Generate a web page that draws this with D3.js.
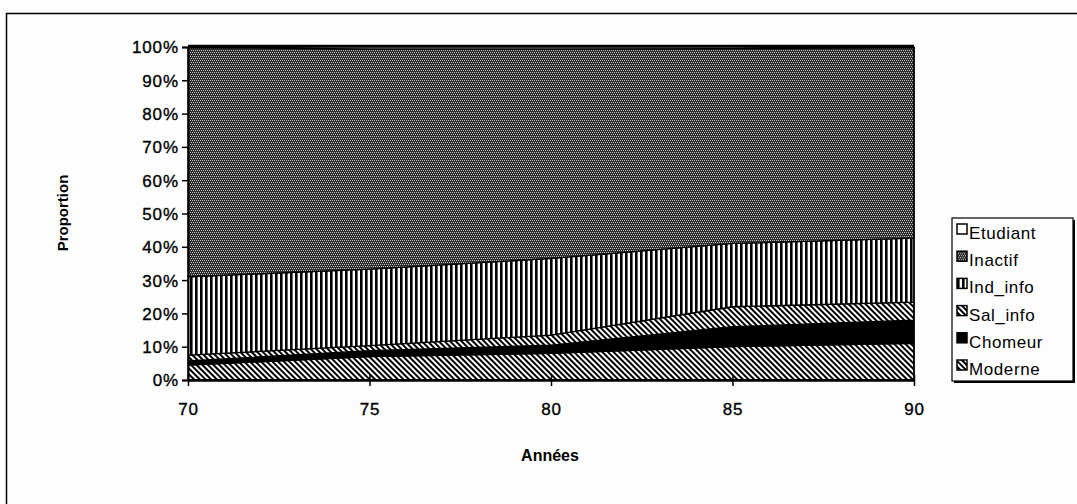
<!DOCTYPE html>
<html>
<head>
<meta charset="utf-8">
<script src="https://cdn.jsdelivr.net/npm/d3@7"></script>
<style>
  body { margin: 0; background: #fdfdfd; }
  svg { display: block; }
  text { font-family: "Liberation Sans", Arial, sans-serif; fill: #000; }
</style>
</head>
<body>
<div id="chart"></div>
<script>
// values, in percent
var years    = [70, 75, 80, 85, 90];
var moderne  = [4.5, 7, 8, 10, 11];
var chomeur  = [1.2, 1.8, 2.5, 6, 7];
var salInfo  = [1.8, 1.5, 3, 6, 5.4];
var indInfo  = [23.5, 23, 23, 19, 19.2];
var inactif  = [68.8, 66.1, 62.9, 58.5, 57.2];
var etudiant = [0.2, 0.6, 0.6, 0.5, 0.2];

var keys = ['Moderne', 'Chomeur', 'Sal_info', 'Ind_info', 'Inactif', 'Etudiant'];
var legendOrder = ['Etudiant', 'Inactif', 'Ind_info', 'Sal_info', 'Chomeur', 'Moderne'];
var yTicks = [0, 10, 20, 30, 40, 50, 60, 70, 80, 90, 100];
var xTicks = [70, 75, 80, 85, 90];

var rows = years.map(function(y, i) {
  return {year: y, Moderne: moderne[i], Chomeur: chomeur[i], Sal_info: salInfo[i],
          Ind_info: indInfo[i], Inactif: inactif[i], Etudiant: etudiant[i]};
});

var width = 1077, height = 504;
var svg = d3.select('#chart').append('svg')
    .attr('width', width)
    .attr('height', height);

// fill patterns
var defs = svg.append('defs');

var pInact = defs.append('pattern').attr('id', 'p-Inactif')
    .attr('patternUnits', 'userSpaceOnUse').attr('width', 4).attr('height', 4);
pInact.append('rect').attr('width', 4).attr('height', 4).attr('fill', '#2e2e2e');
[[0, 0], [2, 0], [1, 2], [3, 2]].forEach(function(p) {
  pInact.append('rect').attr('x', p[0]).attr('y', p[1]).attr('width', 1).attr('height', 1).attr('fill', '#bdbdbd');
});

var pInd = defs.append('pattern').attr('id', 'p-Ind_info')
    .attr('patternUnits', 'userSpaceOnUse').attr('width', 5).attr('height', 5);
pInd.append('rect').attr('width', 5).attr('height', 5).attr('fill', '#fff');
pInd.append('rect').attr('width', 2.6).attr('height', 5).attr('fill', '#000');

function hatch(id, w, lw) {
  var p = defs.append('pattern').attr('id', id)
      .attr('patternUnits', 'userSpaceOnUse').attr('width', w).attr('height', w)
      .attr('patternTransform', 'rotate(-45)');
  p.append('rect').attr('width', w).attr('height', w).attr('fill', '#fff');
  p.append('rect').attr('width', lw).attr('height', w).attr('fill', '#000');
}
hatch('p-Moderne', 4, 2);
hatch('p-Sal_info', 4, 2);

var fills = {
  Etudiant: '#fff',
  Inactif: 'url(#p-Inactif)',
  Ind_info: 'url(#p-Ind_info)',
  Sal_info: 'url(#p-Sal_info)',
  Chomeur: '#000',
  Moderne: 'url(#p-Moderne)'
};

// outer frame
svg.append('rect')
    .attr('x', 6.5).attr('y', 13.5)
    .attr('width', 1100).attr('height', 600)
    .attr('fill', 'none').attr('stroke', '#000').attr('stroke-width', 1.5);

var margin = {left: 188, right: 914, top: 47, bottom: 380};
var x = d3.scaleLinear().domain([70, 90]).range([margin.left, margin.right]);
var y = d3.scaleLinear().domain([0, 100]).range([margin.bottom, margin.top]);

var stack = d3.stack().keys(keys);
var series = stack(rows);

var area = d3.area()
    .x(function(d) { return x(d.data.year); })
    .y0(function(d) { return y(d[0]); })
    .y1(function(d) { return y(Math.min(d[1], 100)); });

svg.append('g').selectAll('path')
  .data(series)
  .enter().append('path')
    .attr('d', area)
    .attr('fill', function(d) { return fills[d.key]; })
    .attr('stroke', '#000')
    .attr('stroke-width', 1.3)
    .attr('stroke-linejoin', 'round');

// plot border top and right
svg.append('line').attr('x1', x(70)).attr('x2', x(90)).attr('y1', y(100) - 1).attr('y2', y(100) - 1)
    .attr('stroke', '#000').attr('stroke-width', 2.5);
svg.append('line').attr('x1', x(90)).attr('x2', x(90)).attr('y1', y(100)).attr('y2', y(0))
    .attr('stroke', '#000').attr('stroke-width', 1.5);

// axes
var yAxis = d3.axisLeft(y).tickValues(yTicks).tickSize(6).tickPadding(3)
    .tickFormat(function(d) { return d + '%'; });
var gy = svg.append('g').attr('transform', 'translate(' + margin.left + ',0)').call(yAxis);
gy.select('.domain').attr('stroke-width', 2);
gy.selectAll('.tick line').attr('stroke-width', 1.5);
gy.selectAll('text').style('font-size', '17px').style('letter-spacing', '0.9px')
    .attr('stroke', '#000').attr('stroke-width', 0.35)
    .attr('dy', '0.35em');

var xAxis = d3.axisBottom(x).tickValues(xTicks).tickSizeInner(6).tickSizeOuter(0).tickPadding(17)
    .tickFormat(d3.format('d'));
var gx = svg.append('g').attr('transform', 'translate(0,' + margin.bottom + ')').call(xAxis);
gx.select('.domain').attr('stroke-width', 2.5);
gx.selectAll('.tick line').attr('y1', -5).attr('stroke-width', 1.5);
gx.selectAll('text').style('font-size', '17px').style('letter-spacing', '0.9px')
    .attr('stroke', '#000').attr('stroke-width', 0.35);

// axis titles
svg.append('text')
    .attr('x', 550).attr('y', 461)
    .attr('text-anchor', 'middle')
    .style('font-size', '16px').style('font-weight', 'bold')
    .text('Années');

svg.append('text')
    .attr('transform', 'translate(68,' + 213 + ') rotate(-90)')
    .attr('text-anchor', 'middle')
    .style('font-size', '15px').style('font-weight', 'bold')
    .text('Proportion');

// legend
var lg = svg.append('g').attr('transform', 'translate(952,218)');
lg.append('rect').attr('x', 2).attr('y', 2).attr('width', 121).attr('height', 163).attr('fill', '#000');
lg.append('rect').attr('width', 121).attr('height', 163)
    .attr('fill', '#fdfdfd').attr('stroke', '#000').attr('stroke-width', 1.2);

var item = lg.selectAll('g.item').data(legendOrder).enter().append('g')
    .attr('class', 'item')
    .attr('transform', function(d, i) { return 'translate(5,' + (14 + i * 27.2) + ')'; });
item.append('rect')
    .attr('x', 0).attr('y', -8).attr('width', 10).attr('height', 10)
    .attr('fill', function(d) { return fills[d]; })
    .attr('stroke', '#000').attr('stroke-width', 1.5);
item.append('text')
    .attr('x', 12).attr('y', 1).attr('dy', '0.35em')
    .style('font-size', '17px').style('letter-spacing', '0.6px')
    .text(function(d) { return d; });
</script>
</body>
</html>
